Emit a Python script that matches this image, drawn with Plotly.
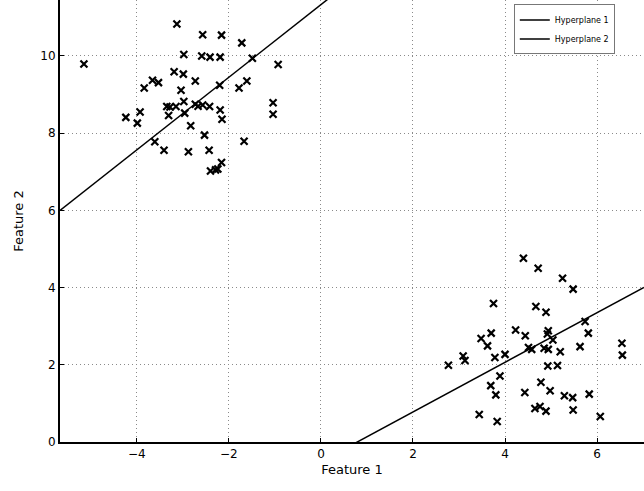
import plotly.graph_objects as go
import numpy as np

# Cluster 1 (upper left)
c1_x = [-5.15, -3.13, -2.57, -2.16, -1.72, -2.98, -2.59, -2.41, -2.19, -1.49, -0.93,
        -3.19, -2.99, -3.66, -3.53, -2.73, -2.20, -1.61, -1.78, -3.84, -3.04, -2.98,
        -3.35, -3.15, -2.73, -2.57, -2.42, -2.19, -1.04, -3.93, -3.31, -2.96, -4.24,
        -2.15, -1.04, -3.99, -2.83, -2.53, -3.61, -1.67, -3.41, -2.88, -2.43, -2.16,
        -2.40, -2.29, -2.24, -2.67, -3.28]
c1_y = [9.79, 10.83, 10.55, 10.54, 10.34, 10.04, 10.00, 9.97, 9.97, 9.94, 9.78,
        9.59, 9.53, 9.37, 9.31, 9.35, 9.24, 9.35, 9.17, 9.17, 9.11, 8.82,
        8.69, 8.69, 8.75, 8.73, 8.69, 8.60, 8.79, 8.55, 8.46, 8.52, 8.41,
        8.36, 8.49, 8.26, 8.19, 7.95, 7.78, 7.79, 7.56, 7.52, 7.56, 7.24,
        7.02, 7.05, 7.07, 8.70, 8.68]

# Cluster 2 (lower right)
c2_x = [4.40, 4.72, 5.25, 5.48, 3.75, 4.67, 4.89, 5.74, 5.81, 4.94, 4.23, 4.44,
        3.70, 3.48, 3.62, 5.04, 5.63, 4.51, 4.58, 4.85, 4.94, 5.20, 3.09, 3.13,
        3.78, 4.00, 2.77, 6.54, 6.55, 4.93, 5.14, 3.89, 3.69, 3.80, 4.78, 4.98,
        4.43, 5.29, 5.47, 5.83, 4.65, 4.76, 4.89, 5.48, 6.07, 3.44, 3.83, 4.92]
c2_y = [4.76, 4.50, 4.24, 3.96, 3.59, 3.51, 3.36, 3.12, 2.82, 2.88, 2.90, 2.75,
        2.82, 2.68, 2.49, 2.64, 2.47, 2.45, 2.40, 2.43, 2.40, 2.34, 2.23, 2.11,
        2.19, 2.27, 1.99, 2.56, 2.25, 1.97, 1.98, 1.71, 1.46, 1.22, 1.55, 1.33,
        1.28, 1.20, 1.15, 1.24, 0.87, 0.92, 0.80, 0.83, 0.66, 0.71, 0.53, 2.80]

# Hyperplanes: y = slope * x + intercept
hp_names = ["Hyperplane 1", "Hyperplane 2"]
hp_slope = [0.94, 0.643]
hp_intercept = [11.33, -0.508]

x_range = [-5.67, 7.02]
y_range = [0, 11.45]

fig = go.Figure()
mk = dict(symbol="x-thin", size=7, color="black", line=dict(width=2.2, color="black"))
fig.add_trace(go.Scatter(x=c1_x, y=c1_y, mode="markers", marker=mk, showlegend=False))
fig.add_trace(go.Scatter(x=c2_x, y=c2_y, mode="markers", marker=mk, showlegend=False))

dashes = ["solid", "solid"]
for name, m, b, d in zip(hp_names, hp_slope, hp_intercept, dashes):
    xs = np.array(x_range)
    fig.add_trace(go.Scatter(x=xs, y=m * xs + b, mode="lines", name=name,
                             line=dict(color="black", width=1.5, dash=d)))

axis_common = dict(
    showline=True, linecolor="black", linewidth=2,
    showgrid=True, gridcolor="#8a8a8a", griddash="1px,3px", gridwidth=1,
    ticks="inside", ticklen=4, tickcolor="black",
    zeroline=False, mirror=False,
    tickfont=dict(family="DejaVu Sans", size=12, color="black"),
    title_font=dict(family="DejaVu Sans", size=13, color="black"),
)

fig.update_layout(
    width=644, height=491,
    margin=dict(l=60, r=0, t=0, b=49),
    plot_bgcolor="white", paper_bgcolor="white",
    xaxis=dict(range=x_range, tickvals=[-4, -2, 0, 2, 4, 6],
               ticktext=["\u22124", "\u22122", "0", "2", "4", "6"],
               title=dict(text="Feature 1", standoff=4), **axis_common),
    yaxis=dict(range=y_range, tickvals=[0, 2, 4, 6, 8, 10],
               title=dict(text="Feature 2", standoff=14), **axis_common),
    legend=dict(x=0.95, y=0.99, xanchor="right", yanchor="top",
                bgcolor="white", bordercolor="#777", borderwidth=1,
                font=dict(family="DejaVu Sans", size=8, color="black"),
                tracegroupgap=0, itemwidth=30),
    showlegend=True,
)

fig.write_html("out.html")
